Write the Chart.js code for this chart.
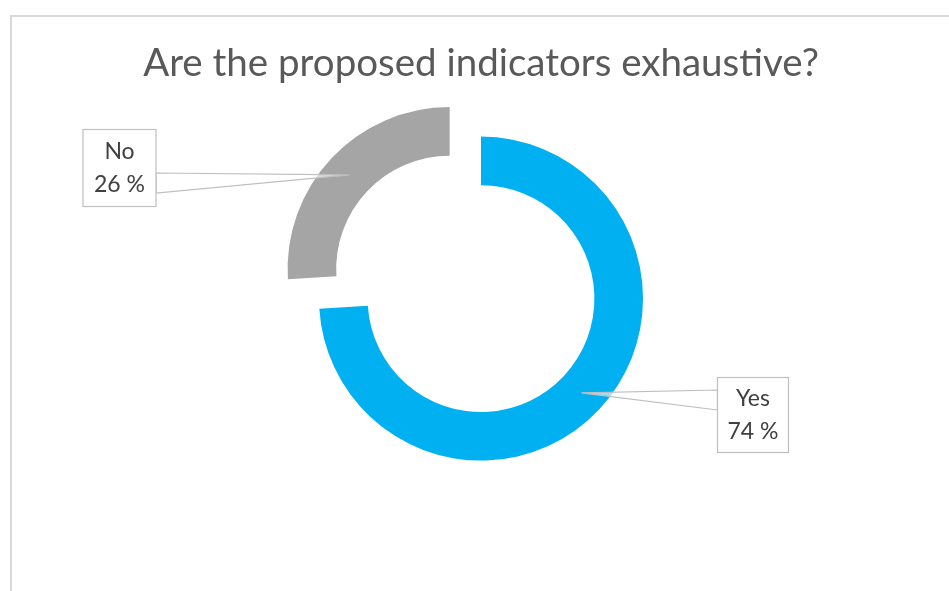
<!DOCTYPE html>
<html>
<head>
<meta charset="utf-8">
<script src="https://cdn.jsdelivr.net/npm/chart.js@4/dist/chart.umd.min.js"></script>
<style>
  html, body { margin: 0; padding: 0; background: #ffffff; }
  #wrap { width: 949px; height: 591px; }
</style>
</head>
<body>
<div id="wrap"><canvas id="indicatorsChart" width="949" height="591"></canvas></div>
<script>
// survey answers
const categories = ["Yes", "No"];
const shares = [74, 26];
const sliceColors = ["#00B0F0", "#A5A5A5"];

// white background and the thin frame around the chart
const framePlugin = {
  id: "frame",
  beforeDraw(chart) {
    const ctx = chart.ctx;
    ctx.save();
    ctx.fillStyle = "#ffffff";
    ctx.fillRect(0, 0, chart.width, chart.height);
    ctx.strokeStyle = "#D9D9D9";
    ctx.lineWidth = 2;
    ctx.strokeRect(11, 16, chart.width + 20, chart.height + 20);
    ctx.restore();
  }
};

// boxed labels with a wedge pointer into each slice
const calloutPlugin = {
  id: "callouts",
  afterDatasetsDraw(chart, args, opts) {
    const ctx = chart.ctx;
    const meta = chart.getDatasetMeta(0);
    meta.data.forEach(function (arc, i) {
      const p = arc.getProps(["x", "y", "startAngle", "endAngle", "innerRadius", "outerRadius"], true);
      const mid = (p.startAngle + p.endAngle) / 2;
      const shift = (arc.options.offset || 0) / 4;
      const r = (p.innerRadius + p.outerRadius) / 2;
      const ax = p.x + Math.cos(mid) * (r + shift);
      const ay = p.y + Math.sin(mid) * (r + shift);

      const box = opts.boxes[i];
      const left = box.cx - box.w / 2;
      const top = box.cy - box.h / 2;
      const edgeX = ax > box.cx ? left + box.w : left;
      const dir = ay > box.cy ? 1 : -1;

      ctx.save();
      // pointer
      ctx.beginPath();
      ctx.moveTo(edgeX, box.cy + dir * 5);
      ctx.lineTo(ax, ay);
      ctx.lineTo(edgeX, box.cy + dir * 25);
      ctx.closePath();
      ctx.fillStyle = "rgba(255,255,255,0.6)";
      ctx.fill();
      ctx.strokeStyle = "#BFBFBF";
      ctx.lineWidth = 1.2;
      ctx.stroke();

      // box
      ctx.fillStyle = "#ffffff";
      ctx.fillRect(left, top, box.w, box.h);
      ctx.strokeStyle = "#BFBFBF";
      ctx.lineWidth = 1.2;
      ctx.strokeRect(left, top, box.w, box.h);

      // text
      ctx.fillStyle = "#404040";
      ctx.font = "23px Lato";
      ctx.textAlign = "center";
      ctx.textBaseline = "middle";
      ctx.fillText(categories[i], box.cx, box.cy - 16);
      ctx.fillText(shares[i] + " %", box.cx, box.cy + 17);
      ctx.restore();
    });
  }
};

const ctx = document.getElementById("indicatorsChart");

new Chart(ctx, {
  type: "doughnut",
  data: {
    labels: categories,
    datasets: [{
      data: shares,
      backgroundColor: sliceColors,
      borderWidth: 0,
      offset: [0, 172],
      hoverOffset: 0
    }]
  },
  options: {
    responsive: false,
    animation: false,
    devicePixelRatio: 1,
    radius: 162,
    cutout: "70%",
    layout: {
      padding: { top: 0, bottom: 80, left: 13, right: 0 }
    },
    events: [],
    plugins: {
      legend: { display: false },
      tooltip: { enabled: false },
      title: {
        display: true,
        text: "Are the proposed indicators exhaustive?",
        color: "#595959",
        font: { family: "Lato", size: 38.5, weight: "normal" },
        padding: { top: 40, bottom: 0 }
      },
      callouts: {
        boxes: [
          { cx: 753, cy: 415, w: 71, h: 75 },
          { cx: 119.5, cy: 168, w: 73, h: 77 }
        ]
      }
    }
  },
  plugins: [framePlugin, calloutPlugin]
});
</script>
</body>
</html>
